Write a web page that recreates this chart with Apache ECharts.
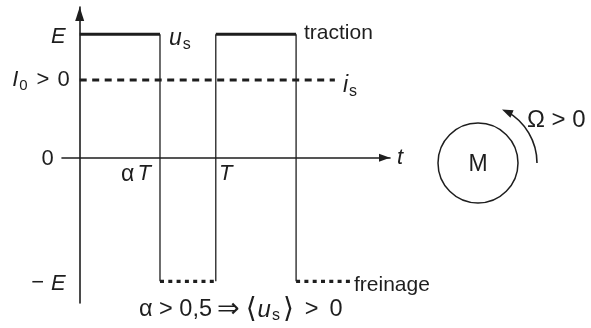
<!DOCTYPE html>
<html>
<head>
<meta charset="utf-8">
<script src="https://cdn.jsdelivr.net/npm/echarts@6/dist/echarts.min.js"></script>
<style>
  html, body { margin: 0; padding: 0; background: #fff; }
  #chart { width: 591px; height: 328px; }
</style>
</head>
<body>
<div id="chart"></div>
<script>
// values (E = 1, T = 1)
const E = 1;
const I0 = 0.63;
const alpha = 0.59;
const period = 1;
// switching instants of u_s and level held after each one
const usEdges = [0, alpha * period, period, period + alpha * period, 2.0];
const usLevels = [E, -E, E, -E];
const isStart = 0;
const isEnd = 1.875;
// tick labels
const yTicks = [E, I0, 0, -E];
const yTickText = ['E', 'I0 > 0', '0', '− E'];
const xTicks = [alpha * period, period];
const xTickText = ['αT', 'T'];

const ink = '#1e1e1e';
const font = "'Liberation Sans', 'DejaVu Sans', sans-serif";

// build u_s segments
let highSeg = [], lowSeg = [], vertSeg = [];
for (let i = 0; i < usLevels.length; i++) {
  const seg = [[usEdges[i], usLevels[i]], [usEdges[i + 1], usLevels[i]], ['-', '-']];
  if (usLevels[i] > 0) highSeg = highSeg.concat(seg); else lowSeg = lowSeg.concat(seg);
  if (i > 0) vertSeg = vertSeg.concat([[usEdges[i], usLevels[i - 1]], [usEdges[i], usLevels[i]], ['-', '-']]);
}

const yMarkup = {
  'E': '{e|E}',
  'I0 > 0': '{i|I}{sub|0}{gt|>}{z0|0}',
  '0': '{z|0}',
  '− E': '{n|−}{e|E}'
};
const xMarkup = {
  'αT': '{a|α}{ti|T}',
  'T': '{tr|T}'
};

const chart = echarts.init(document.getElementById('chart'), null, { renderer: 'canvas' });
chart.setOption({
  animation: false,
  backgroundColor: '#fff',
  grid: { left: 62, right: 201, top: 7, bottom: 25 },
  xAxis: {
    type: 'value',
    min: -0.13,
    max: 2.28,
    offset: -145.2,
    name: 't',
    nameLocation: 'end',
    nameGap: 7,
    nameTextStyle: { fontFamily: font, fontSize: 22, fontStyle: 'italic', color: ink, verticalAlign: 'middle', padding: [4, 0, 0, 0] },
    axisLine: {
      onZero: false,
      lineStyle: { color: ink, width: 1.6 },
      symbol: ['none', 'triangle'],
      symbolSize: [8, 11],
      symbolOffset: [0, -5.5]
    },
    axisTick: { show: false },
    splitLine: { show: false },
    axisLabel: {
      customValues: xTicks,
      margin: 5,
      color: ink,
      fontFamily: font,
      formatter: function (v) {
        const k = xTicks.findIndex(function (t) { return Math.abs(t - v) < 1e-6; });
        return k < 0 ? '' : xMarkup[xTickText[k]];
      },
      rich: {
        a: { fontFamily: font, fontSize: 23, color: ink },
        ti: { fontFamily: font, fontSize: 22, fontStyle: 'italic', color: ink, padding: [0, 48, 0, 3] },
        tr: { fontFamily: font, fontSize: 22, fontStyle: 'italic', color: ink, padding: [0, 0, 0, 20] }
      }
    }
  },
  yAxis: {
    type: 'value',
    min: -1.175,
    max: 1.22,
    offset: -17.7,
    axisLine: {
      onZero: false,
      lineStyle: { color: ink, width: 1.6 },
      symbol: ['none', 'triangle'],
      symbolSize: [9, 14],
      symbolOffset: [0, -7]
    },
    axisTick: { show: false },
    splitLine: { show: false },
    axisLabel: {
      customValues: yTicks,
      margin: 7,
      color: ink,
      fontFamily: font,
      formatter: function (v) {
        const k = yTicks.findIndex(function (t) { return Math.abs(t - v) < 1e-6; });
        return k < 0 ? '' : yMarkup[yTickText[k]];
      },
      rich: {
        e: { fontFamily: font, fontSize: 22, fontStyle: 'italic', color: ink, padding: [6, 7, 0, 0] },
        i: { fontFamily: font, fontSize: 22, fontStyle: 'italic', color: ink },
        sub: { fontFamily: font, fontSize: 15, color: ink, padding: [12, 9, 0, 1] },
        gt: { fontFamily: font, fontSize: 22, color: ink, padding: [0, 8, 0, 0] },
        z0: { fontFamily: font, fontSize: 22, color: ink, padding: [0, 3, 0, 0] },
        n: { fontFamily: font, fontSize: 22, color: ink, padding: [3, 7, 0, 0] },
        z: { fontFamily: font, fontSize: 22, color: ink, padding: [3, 19, 0, 0] }
      }
    }
  },
  series: [
    {
      name: 'us high',
      type: 'line',
      data: highSeg,
      showSymbol: false,
      connectNulls: false,
      lineStyle: { color: ink, width: 3, cap: 'butt' },
      z: 4
    },
    {
      name: 'us low',
      type: 'line',
      data: lowSeg,
      showSymbol: false,
      connectNulls: false,
      lineStyle: { color: ink, width: 3.2, type: [4, 4.3], cap: 'butt' },
      z: 4
    },
    {
      name: 'us edges',
      type: 'line',
      data: vertSeg,
      showSymbol: false,
      connectNulls: false,
      lineStyle: { color: ink, width: 1.3 },
      z: 3
    },
    {
      name: 'is',
      type: 'line',
      data: [[isStart, I0], [isEnd, I0]],
      showSymbol: false,
      lineStyle: { color: ink, width: 3, type: [7, 5.5], cap: 'butt' },
      z: 4
    }
  ],
  graphic: [
    {
      type: 'text', x: 169, y: 39,
      style: {
        text: '{u|u}{s|s}', verticalAlign: 'middle', fill: ink,
        rich: {
          u: { fontFamily: font, fontSize: 23, fontStyle: 'italic', fill: ink },
          s: { fontFamily: font, fontSize: 16, fill: ink, padding: [12, 0, 0, 1] }
        }
      }
    },
    { type: 'text', x: 304, y: 33, style: { text: 'traction', font: '21px ' + font, fill: ink, verticalAlign: 'middle' } },
    {
      type: 'text', x: 343, y: 86,
      style: {
        text: '{u|i}{s|s}', verticalAlign: 'middle', fill: ink,
        rich: {
          u: { fontFamily: font, fontSize: 23, fontStyle: 'italic', fill: ink },
          s: { fontFamily: font, fontSize: 16, fill: ink, padding: [12, 0, 0, 1] }
        }
      }
    },
    { type: 'text', x: 354, y: 285, style: { text: 'freinage', font: '21px ' + font, fill: ink, verticalAlign: 'middle' } },
    {
      type: 'text', x: 139, y: 310,
      style: {
        text: '{n|α > 0,5}{m|⇒}{b|⟨}{u|u}{s|s}{b2|⟩}{g|>}{n|0}', verticalAlign: 'middle', fill: ink,
        rich: {
          n: { fontFamily: font, fontSize: 23.5, fill: ink },
          m: { fontFamily: "'DejaVu Sans', " + font, fontSize: 27, fill: ink, padding: [0, 3, 0, 5] },
          b: { fontFamily: "'DejaVu Sans', " + font, fontSize: 28, fill: ink, padding: [0, 1, 0, 3] },
          b2: { fontFamily: "'DejaVu Sans', " + font, fontSize: 28, fill: ink, padding: [0, 11, 0, 3] },
          g: { fontFamily: font, fontSize: 23.5, fill: ink, padding: [0, 11, 0, 0] },
          u: { fontFamily: font, fontSize: 24, fontStyle: 'italic', fill: ink },
          s: { fontFamily: font, fontSize: 16, fill: ink, padding: [12, 0, 0, 1] }
        }
      }
    },
    // motor sketch
    { type: 'circle', shape: { cx: 478, cy: 163, r: 40 }, style: { fill: 'none', stroke: ink, lineWidth: 1.5 } },
    { type: 'text', x: 478, y: 165, style: { text: 'M', font: '23px ' + font, fill: ink, align: 'center', verticalAlign: 'middle' } },
    { type: 'arc', shape: { cx: 478, cy: 163, r: 59, startAngle: -Math.PI * 61 / 180, endAngle: 0, clockwise: true }, style: { fill: 'none', stroke: ink, lineWidth: 1.6 } },
    { type: 'polygon', shape: { points: [[502, 109.5], [513.6, 110.3], [510.4, 117.7]] }, style: { fill: ink } },
    { type: 'text', x: 527, y: 120, style: { text: 'Ω > 0', font: '24px ' + font, fill: ink, verticalAlign: 'middle' } }
  ]
});
</script>
</body>
</html>
